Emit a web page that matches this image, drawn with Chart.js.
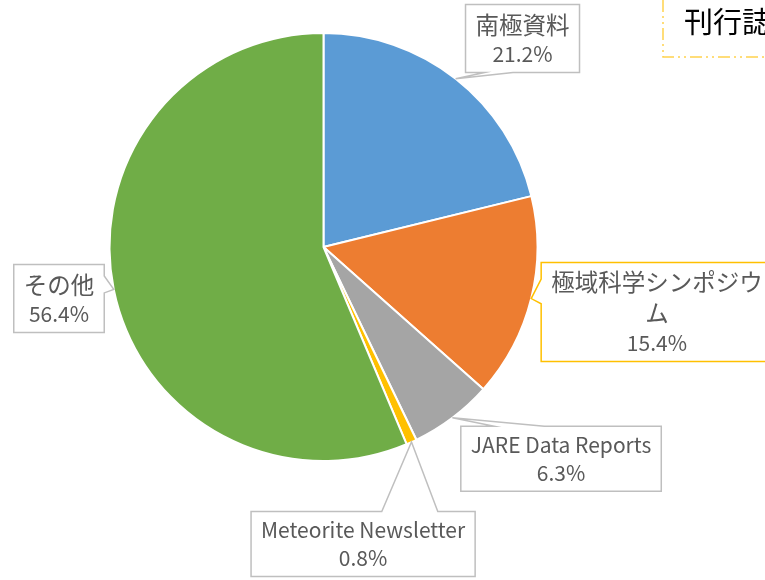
<!DOCTYPE html>
<html>
<head>
<meta charset="utf-8">
<script src="https://cdn.jsdelivr.net/npm/chart.js@4.4.0/dist/chart.umd.min.js"></script>
<style>
  html, body { margin: 0; padding: 0; background: #fff; }
</style>
</head>
<body>
<canvas id="pieChart" width="765" height="580"></canvas>
<script>
const categories = ['南極資料', '極域科学シンポジウム', 'JARE Data Reports', 'Meteorite Newsletter', 'その他'];
const shares = [21.2, 15.4, 6.3, 0.8, 56.4];
const percentLabels = ['21.2%', '15.4%', '6.3%', '0.8%', '56.4%'];
const sliceColors = ['#5B9BD5', '#ED7D31', '#A5A5A5', '#FFC000', '#70AD47'];
const titleText = '刊行誌';

// where each callout box sits, in pie radii from the centre
const calloutOffsets = [[0.93, -0.974], [1.558, 0.304], [1.11, 0.99], [0.185, 1.388], [-1.236, 0.241]];
const calloutBorders = ['#BFBFBF', '#FFC000', '#BFBFBF', '#BFBFBF', '#BFBFBF'];

const cjkFont = '23.5px "Noto Sans CJK JP"';
const latinFont = '21px "Noto Sans CJK JP"';
const textColor = '#595959';
const maxTextWidth = 215;

const isCJK = s => /[\u3000-\u9fff]/.test(s);
const fontFor = s => isCJK(s) ? cjkFont : latinFont;

function measure(ctx, s) {
    ctx.font = fontFor(s);
    return ctx.measureText(s).width;
}

function wrapText(ctx, text) {
    if (!isCJK(text) || measure(ctx, text) <= maxTextWidth) return [text];
    const lines = [];
    let cur = '';
    for (const ch of text) {
        if (cur && measure(ctx, cur + ch) > maxTextWidth) {
            lines.push(cur);
            cur = ch;
        } else {
            cur += ch;
        }
    }
    if (cur) lines.push(cur);
    return lines;
}

// same wedge rule as the office "wedgeRectCallout" shape
function calloutPath(ctx, l, t, w, h, tx, ty) {
    const hc = l + w / 2, vc = t + h / 2;
    const dxPos = tx - hc, dyPos = ty - vc;
    ctx.beginPath();
    if (tx >= l && tx <= l + w && ty >= t && ty <= t + h) {
        ctx.rect(l, t, w, h);
        return;
    }
    let side;
    if (Math.abs(dxPos) * h > Math.abs(dyPos) * w) side = dxPos > 0 ? 'right' : 'left';
    else side = dyPos > 0 ? 'bottom' : 'top';
    const x1 = l + w * (dxPos > 0 ? 7 : 2) / 12, x2 = l + w * (dxPos > 0 ? 10 : 5) / 12;
    const y1 = t + h * (dyPos > 0 ? 7 : 2) / 12, y2 = t + h * (dyPos > 0 ? 10 : 5) / 12;
    ctx.moveTo(l, t);
    if (side === 'top') { ctx.lineTo(x1, t); ctx.lineTo(tx, ty); ctx.lineTo(x2, t); }
    ctx.lineTo(l + w, t);
    if (side === 'right') { ctx.lineTo(l + w, y1); ctx.lineTo(tx, ty); ctx.lineTo(l + w, y2); }
    ctx.lineTo(l + w, t + h);
    if (side === 'bottom') { ctx.lineTo(x2, t + h); ctx.lineTo(tx, ty); ctx.lineTo(x1, t + h); }
    ctx.lineTo(l, t + h);
    if (side === 'left') { ctx.lineTo(l, y2); ctx.lineTo(tx, ty); ctx.lineTo(l, y1); }
    ctx.closePath();
}

const calloutPlugin = {
    id: 'callouts',
    afterDatasetsDraw(chart) {
        const ctx = chart.ctx;
        const arcs = chart.getDatasetMeta(0).data;
        ctx.save();
        arcs.forEach((arc, i) => {
            const r = arc.outerRadius;
            const mid = (arc.startAngle + arc.endAngle) / 2;
            const tx = arc.x + r * Math.cos(mid);
            const ty = arc.y + r * Math.sin(mid);

            const lines = wrapText(ctx, categories[i]).concat([percentLabels[i]]);
            const heights = lines.map(s => isCJK(s) ? 31 : 28);
            const textW = Math.max(...lines.map(s => measure(ctx, s)));
            const w = textW + 20;
            const h = heights.reduce((a, b) => a + b, 0) + 9;
            const cx = arc.x + r * calloutOffsets[i][0];
            const cy = arc.y + r * calloutOffsets[i][1];
            const l = cx - w / 2, t = cy - h / 2;

            calloutPath(ctx, l, t, w, h, tx, ty);
            ctx.fillStyle = '#fff';
            ctx.fill();
            ctx.lineWidth = 1.5;
            ctx.strokeStyle = calloutBorders[i];
            ctx.stroke();

            ctx.fillStyle = textColor;
            ctx.textAlign = 'center';
            ctx.textBaseline = 'middle';
            let y = t + 4.5;
            lines.forEach((s, k) => {
                ctx.font = fontFor(s);
                ctx.fillText(s, cx, y + heights[k] / 2);
                y += heights[k];
            });
        });
        ctx.restore();
    }
};

const titlePlugin = {
    id: 'titleBox',
    afterDraw(chart) {
        const ctx = chart.ctx;
        ctx.save();
        ctx.strokeStyle = '#FFD24D';
        ctx.lineWidth = 1.5;
        ctx.setLineDash([12, 4, 2, 4, 2, 4]);
        ctx.beginPath();
        ctx.moveTo(663, 0);
        ctx.lineTo(663, 57);
        ctx.lineTo(chart.width + 5, 57);
        ctx.stroke();
        ctx.setLineDash([]);
        ctx.fillStyle = '#000';
        ctx.font = '29px "Noto Sans CJK JP"';
        ctx.textBaseline = 'middle';
        ctx.textAlign = 'left';
        ctx.fillText(titleText, 684, 22);
        ctx.restore();
    }
};

new Chart(document.getElementById('pieChart').getContext('2d'), {
    type: 'pie',
    data: {
        labels: categories,
        datasets: [{
            data: shares,
            backgroundColor: sliceColors,
            borderColor: '#fff',
            borderWidth: 2
        }]
    },
    options: {
        responsive: false,
        animation: false,
        layout: { padding: { left: 108, right: 226, top: 32, bottom: 118 } },
        plugins: {
            legend: { display: false },
            tooltip: { enabled: false }
        }
    },
    plugins: [calloutPlugin, titlePlugin]
});
</script>
</body>
</html>
